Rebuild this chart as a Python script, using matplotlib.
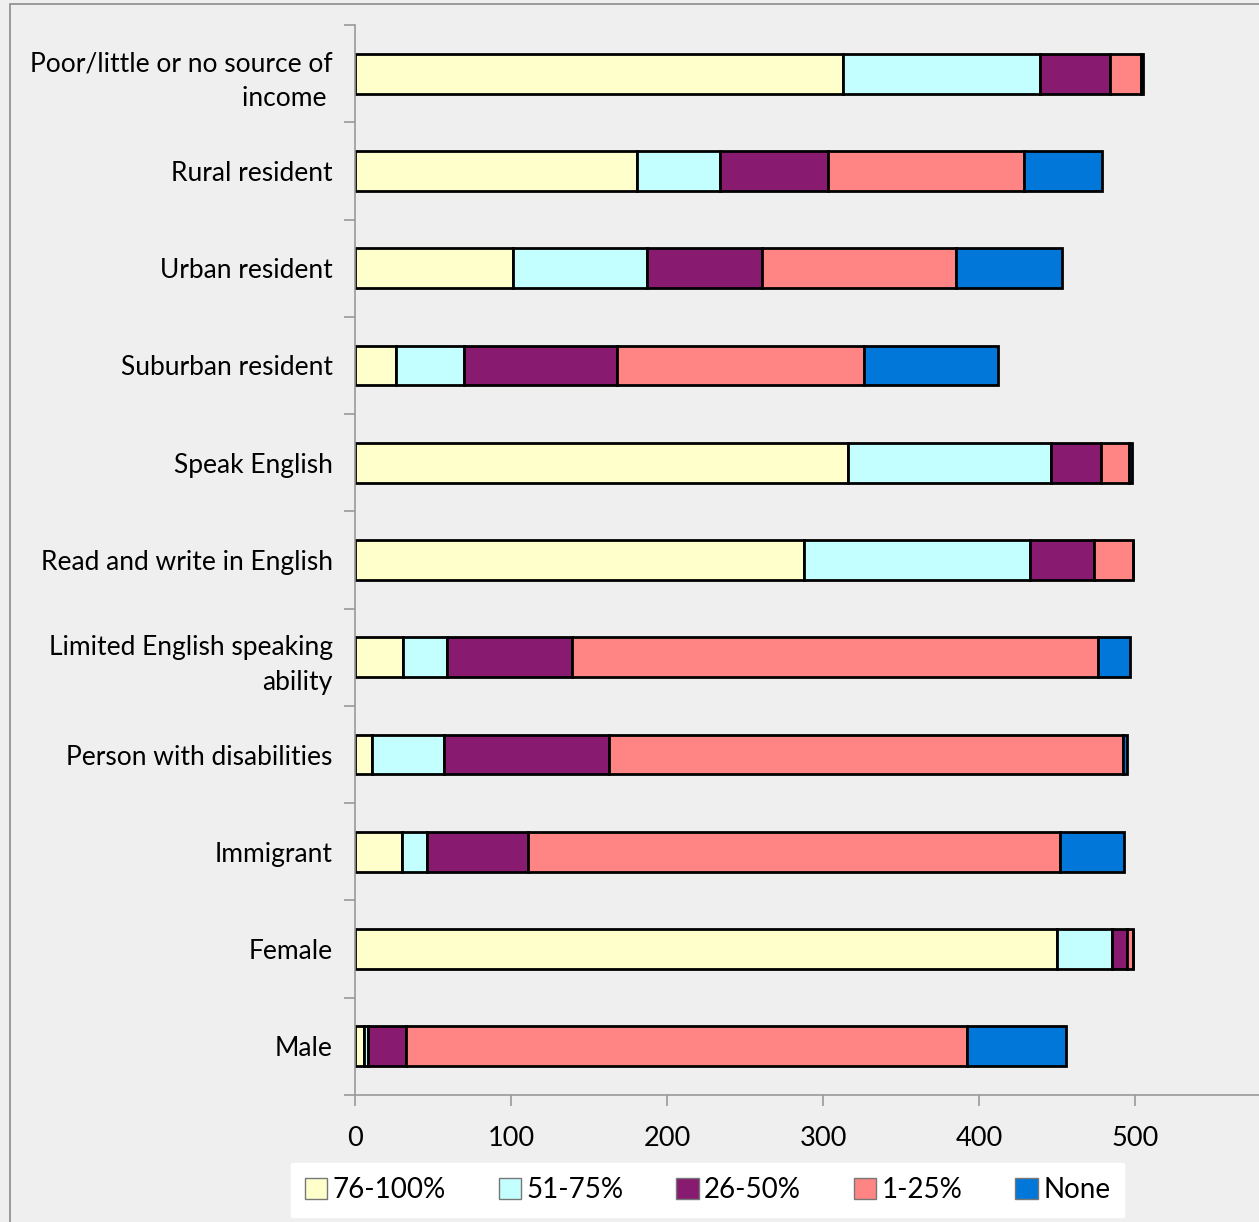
import numpy as np
import matplotlib.pyplot as plt
from matplotlib.patches import Rectangle, Patch

# categories, top to bottom
categories = ['Poor/little or no source of\nincome ', 'Rural resident', 'Urban resident',
              'Suburban resident', 'Speak English', 'Read and write in English',
              'Limited English speaking\nability', 'Person with disabilities',
              'Immigrant', 'Female', 'Male']

series_names = ['76-100%', '51-75%', '26-50%', '1-25%', 'None']
colors = ['#FFFFCC', '#C4FFFF', '#881A70', '#FF8585', '#0077D9']

pct_76_100 = [313, 181, 101, 26, 316, 288, 31, 11, 30, 450, 6]
pct_51_75 = [126, 53, 86, 44, 130, 145, 28, 46, 16, 35, 2.5]
pct_26_50 = [45, 69, 74, 98, 32, 41, 80, 106, 65, 10, 24.5]
pct_1_25 = [20, 126, 124, 158, 18, 25, 337, 329, 341, 4, 359]
pct_none = [1, 50, 68, 86, 2, 0, 21, 3, 41, 0, 64]

xticks = [0, 100, 200, 300, 400, 500]

series = [pct_76_100, pct_51_75, pct_26_50, pct_1_25, pct_none]

plt.rcParams['font.family'] = ['Lato', 'DejaVu Sans']

fig = plt.figure(figsize=(12.59, 12.22), dpi=100)
fig.patch.set_facecolor('#EFEFEF')
fig.patches.append(Rectangle((10 / 1259, -0.01), 1.0, 1 - 4 / 1222 + 0.01,
                             transform=fig.transFigure, fill=False,
                             edgecolor='#8C8C8C', linewidth=1.2))

ax = fig.add_axes([355 / 1259, 1 - 1095 / 1222, 1 - 355 / 1259, (1095 - 25) / 1222])
ax.set_facecolor('#EFEFEF')

y = np.arange(len(categories))[::-1]
left = np.zeros(len(categories))
for name, vals, c in zip(series_names, series, colors):
    vals = np.array(vals, dtype=float)
    ax.barh(y, vals, left=left, height=0.41, color=c, edgecolor='black',
            linewidth=2, label=name)
    left += vals

ax.set_xlim(0, (1259 - 355) / 1.56)
ax.set_ylim(-0.5, len(categories) - 0.5)
ax.set_xticks(xticks)
ax.set_xticklabels([str(t) for t in xticks], fontsize=19.5)
ax.set_yticks(y)
ax.set_yticklabels(categories, fontsize=19, ha='right', multialignment='right',
                   linespacing=1.5)
ax.set_yticks(np.arange(len(categories) + 1) - 0.5, minor=True)
ax.tick_params(axis='y', which='major', length=0, pad=16)
ax.tick_params(axis='y', which='minor', length=8, color='#999999', width=1.2)
ax.tick_params(axis='x', length=8, color='#999999', width=1.2, pad=14)

for s in ['top', 'right']:
    ax.spines[s].set_visible(False)
for s in ['left', 'bottom']:
    ax.spines[s].set_color('#999999')
    ax.spines[s].set_linewidth(1.2)

handles = [Patch(facecolor=c, edgecolor='#777777', label=n) for n, c in zip(series_names, colors)]
leg = fig.legend(handles=handles, loc='center', ncol=5,
                 bbox_to_anchor=((288 + 1127) / 2 / 1259, 1 - 1190 / 1222),
                 fontsize=20, frameon=True, fancybox=False, edgecolor='white',
                 facecolor='white', framealpha=1, handlelength=0.8, handleheight=0.8,
                 handletextpad=0.2, columnspacing=1.9, borderpad=0.5)

fig.savefig('out.png', dpi=100, facecolor=fig.get_facecolor())
